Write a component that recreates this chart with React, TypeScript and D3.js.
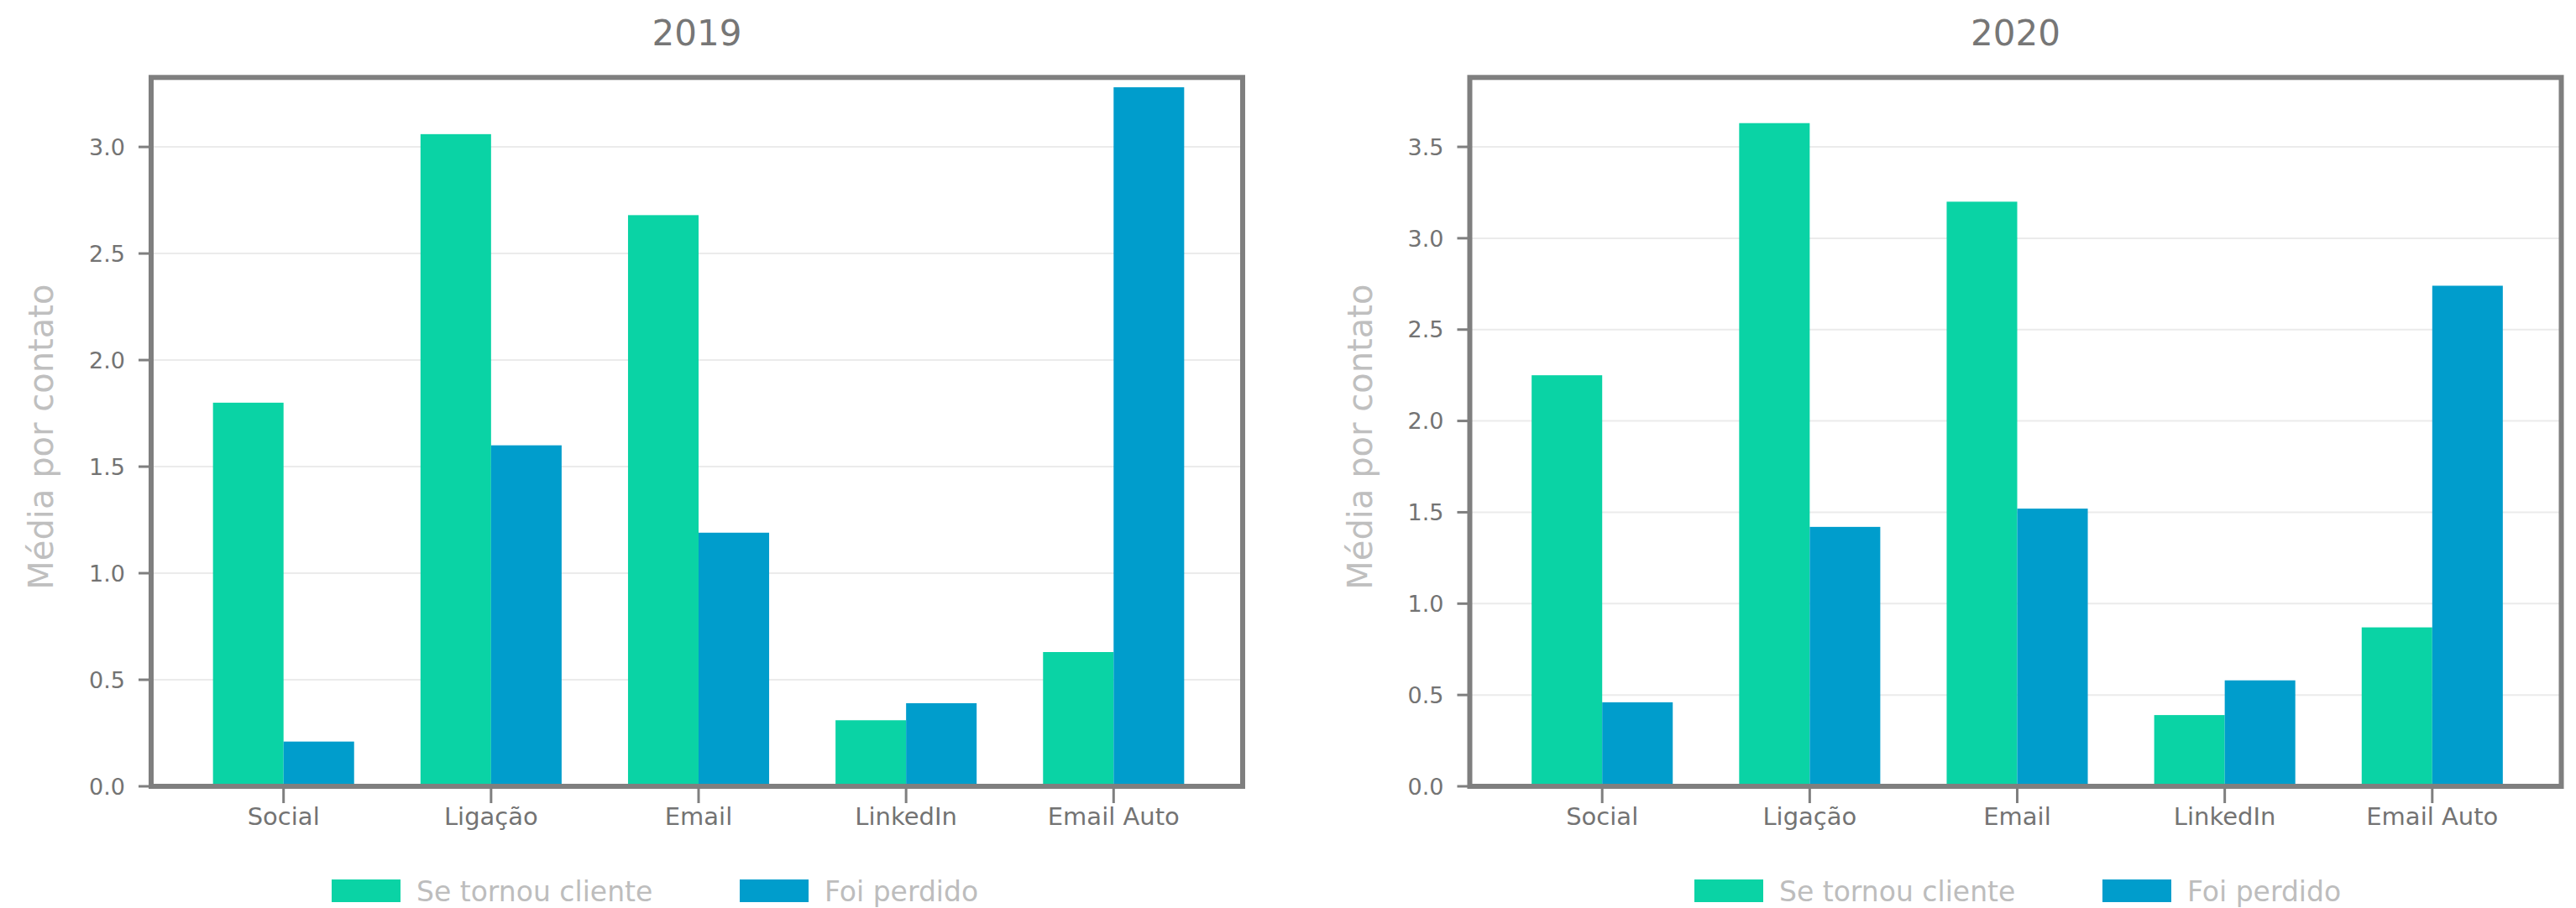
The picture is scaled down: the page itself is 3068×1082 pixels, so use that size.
import React, { useEffect, useRef } from "react";
import * as d3 from "d3";

const categories = ["Social", "Ligação", "Email", "LinkedIn", "Email Auto"];
const seriesNames = ["Se tornou cliente", "Foi perdido"];
const client2019 = [1.8, 3.06, 2.68, 0.31, 0.63];
const lost2019 = [0.21, 1.6, 1.19, 0.39, 3.28];
const client2020 = [2.25, 3.63, 3.2, 0.39, 0.87];
const lost2020 = [0.46, 1.42, 1.52, 0.58, 2.74];
const ticks2019 = [0, 0.5, 1, 1.5, 2, 2.5, 3];
const ticks2020 = [0, 0.5, 1, 1.5, 2, 2.5, 3, 3.5];
const years = ["2019", "2020"];
const yLabel = "Média por contato";

const COLORS = ["#0AD3A5", "#009DCC"];
const FONT = "'DejaVu Sans', sans-serif";
const W = 3068;
const H = 1082;

export default function App() {
  const ref = useRef<SVGSVGElement | null>(null);

  useEffect(() => {
    document.body.style.margin = "0";
    const svg = d3.select(ref.current);
    svg.selectAll("*").remove();
    svg.append("rect").attr("width", W).attr("height", H).attr("fill", "#fff");

    const panels = [
      { title: years[0], left: 180, right: 1480, ymax: 3.326, client: client2019, lost: lost2019, ticks: ticks2019, legendX: 395 },
      { title: years[1], left: 1750.5, right: 3050.5, ymax: 3.88, client: client2020, lost: lost2020, ticks: ticks2020, legendX: 2018 },
    ];
    const top = 92.3;
    const bottom = 937;

    panels.forEach((p) => {
      const g = svg.append("g");
      const x = d3
        .scaleBand<string>()
        .domain(categories)
        .range([p.left + 2, p.right + 2])
        .paddingInner(0.32)
        .paddingOuter(0.29);
      const xs = d3.scaleBand<string>().domain(["client", "lost"]).range([0, x.bandwidth()]);
      const y = d3.scaleLinear().domain([0, p.ymax]).range([bottom, top]);

      // gridlines
      g.selectAll("line.grid")
        .data(p.ticks.filter((t) => t > 0))
        .enter()
        .append("line")
        .attr("x1", p.left)
        .attr("x2", p.right)
        .attr("y1", (d) => y(d))
        .attr("y2", (d) => y(d))
        .attr("stroke", "#ebebeb")
        .attr("stroke-width", 2);

      // bars
      const rows = categories.map((c, i) => ({ c, client: p.client[i], lost: p.lost[i] }));
      (["client", "lost"] as const).forEach((key, k) => {
        g.selectAll(`rect.${key}`)
          .data(rows)
          .enter()
          .append("rect")
          .attr("x", (d) => (x(d.c) as number) + (xs(key) as number))
          .attr("y", (d) => y(d[key]))
          .attr("width", xs.bandwidth())
          .attr("height", (d) => bottom - y(d[key]))
          .attr("fill", COLORS[k]);
      });

      // frame
      g.append("rect")
        .attr("x", p.left)
        .attr("y", top)
        .attr("width", p.right - p.left)
        .attr("height", bottom - top)
        .attr("fill", "none")
        .attr("stroke", "#7f7f7f")
        .attr("stroke-width", 6);

      // y ticks
      p.ticks.forEach((t) => {
        g.append("line")
          .attr("x1", p.left - 15)
          .attr("x2", p.left)
          .attr("y1", y(t))
          .attr("y2", y(t))
          .attr("stroke", "#7f7f7f")
          .attr("stroke-width", 3);
        g.append("text")
          .attr("x", p.left - 31)
          .attr("y", y(t))
          .attr("dy", "0.36em")
          .attr("text-anchor", "end")
          .attr("font-family", FONT)
          .attr("font-size", 27)
          .attr("fill", "#737373")
          .text(d3.format(".1f")(t));
      });

      // x ticks
      categories.forEach((c) => {
        const cx = (x(c) as number) + x.bandwidth() / 2;
        g.append("line")
          .attr("x1", cx)
          .attr("x2", cx)
          .attr("y1", bottom)
          .attr("y2", bottom + 20)
          .attr("stroke", "#7f7f7f")
          .attr("stroke-width", 3);
        g.append("text")
          .attr("x", cx)
          .attr("y", 983)
          .attr("text-anchor", "middle")
          .attr("font-family", FONT)
          .attr("font-size", 29)
          .attr("fill", "#737373")
          .text(c);
      });

      // title
      g.append("text")
        .attr("x", (p.left + p.right) / 2)
        .attr("y", 54)
        .attr("text-anchor", "middle")
        .attr("font-family", FONT)
        .attr("font-size", 42)
        .attr("fill", "#767676")
        .text(p.title);

      // y label
      g.append("text")
        .attr("transform", `translate(${p.left - 117},${(top + bottom) / 2 + 6}) rotate(-90)`)
        .attr("text-anchor", "middle")
        .attr("font-family", FONT)
        .attr("font-size", 40)
        .attr("fill", "#bfbfbf")
        .text(yLabel);

      // legend
      seriesNames.forEach((name, k) => {
        const lx = p.legendX + k * 486;
        g.append("rect")
          .attr("x", lx)
          .attr("y", 1048)
          .attr("width", 82)
          .attr("height", 27)
          .attr("fill", COLORS[k]);
        g.append("text")
          .attr("x", lx + 101)
          .attr("y", 1074)
          .attr("font-family", FONT)
          .attr("font-size", 33)
          .attr("fill", "#bdbdbd")
          .text(name);
      });
    });
  }, []);

  return (
    <svg
      ref={ref}
      width={W}
      height={H}
      style={{ position: "absolute", left: 0, top: 0, display: "block" }}
    />
  );
}
